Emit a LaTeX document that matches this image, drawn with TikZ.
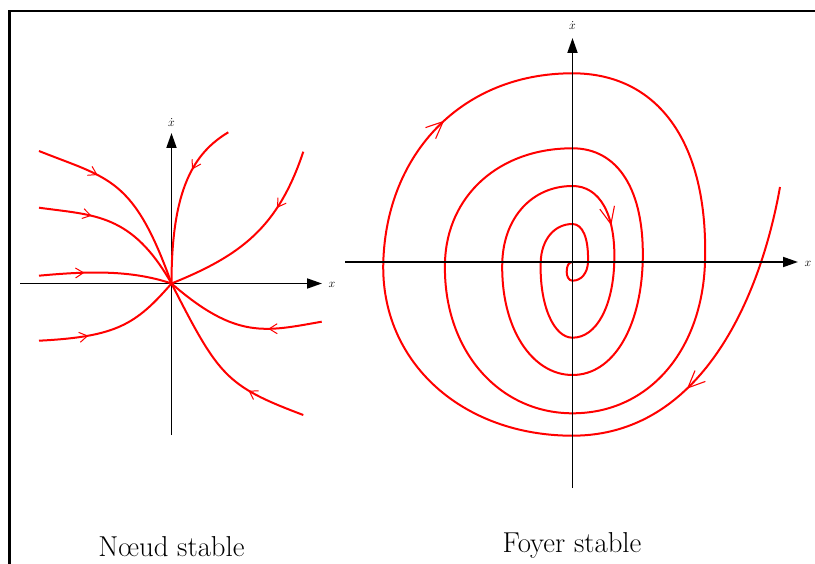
\documentclass[tikz,border=0pt]{standalone}
\usetikzlibrary{arrows.meta,decorations.markings}
\def\ku{0.58}
\def\kr{0.64}
\def\kd{0.58}
\def\kb{0.58}
\def\tl{0.03}
\begin{document}
\begin{tikzpicture}[x=1pt,y=-1pt,
  curve/.style={red, line width=2pt, line join=round},
  axis/.style={black, line width=1.8pt, -{Triangle[length=15pt,width=10pt]}},
  lbl/.style={inner sep=0pt, font=\fontsize{13}{15}\selectfont},
  title/.style={inner sep=0pt, anchor=base, font=\fontsize{28.8}{34}\selectfont},
  smallmark/.style={decoration={markings, mark=at position #1 with {\arrow{Straight Barb[length=8pt,width=10pt,line width=1pt]}}}, postaction={decorate}},
  bigmark/.style={decoration={markings, mark=at position #1 with {\arrow{Straight Barb[length=17pt,width=15pt,line width=1.1pt]}}}, postaction={decorate}}
]
\useasboundingbox (0,0) rectangle (815,564);
% frame
\draw[line width=2.5pt] (9.5,900) -- (9.5,11) -- (900,11);

% ---------- left: stable node ----------
\coordinate (O) at (171.5,283.5);
\draw[axis] (20,283.5) -- (322,283.5);
\draw[axis] (171.5,435) -- (171.5,133);
\node[lbl] (lx) at (332,285) {$x$};
\node[lbl] (ly) at (171.5,123) {$\dot x$};

\draw[curve, smallmark=0.32] (39,151) .. controls (109,179) and (133.5,177.1) .. (O);
\draw[curve, smallmark=0.33] (39,207.7) .. controls (94,215.4) and (131.5,213.1) .. (O);
\draw[curve, smallmark=0.34] (39,275.7) .. controls (89,271) and (131.5,270) .. (O);
\draw[curve, smallmark=0.31] (228.3,132.3) .. controls (194,152.9) and (171.5,188.5) .. (O);
\draw[curve, smallmark=0.32] (303.3,151.7) .. controls (278,227.6) and (241,255.4) .. (O);
\draw[curve, smallmark=0.33] (39,340.7) .. controls (116.6,336.8) and (135.9,324.4) .. (O);
\draw[curve, smallmark=0.33] (321.7,321.7) .. controls (265.8,331.5) and (236.5,340) .. (O);
\draw[curve, smallmark=0.31] (303.3,415) .. controls (225.6,385.8) and (218.8,376) .. (O);

\node[title] (t1) at (171.5,556.7) {N\oe ud stable};

% ---------- right: stable focus ----------
\begin{scope}[shift={(572.5,262)}]
\draw[curve] (207.5,-75) .. controls (187.5,38) and (127.5,173.7) .. (0,173.7)
 .. controls ({-\kb*189.2},173.7) and ({-189.2-\tl*\kb*173.7},{\kb*173.7}) .. (-189.2,0)
 .. controls ({-189.2+\tl*\ku*188.7},{-\ku*188.7}) and ({-\ku*189.2},-188.7) .. (0,-188.7)
 .. controls ({\kr*132.5},-188.7) and ({132.5+\tl*\kr*188.7},{-\kr*188.7}) .. (132.5,0)
 .. controls ({132.5-\tl*\kd*151.3},{\kd*151.3}) and ({\kd*132.5},151.3) .. (0,151.3)
 .. controls ({-\kb*127.5},151.3) and ({-127.5-\tl*\kb*151.3},{\kb*151.3}) .. (-127.5,0)
 .. controls ({-127.5+\tl*\ku*113.7},{-\ku*113.7}) and ({-\ku*127.5},-113.7) .. (0,-113.7)
 .. controls ({\kr*70.2},-113.7) and ({70.2+\tl*\kr*113.7},{-\kr*113.7}) .. (70.2,0)
 .. controls ({70.2-\tl*\kd*113},{\kd*113}) and ({\kd*70.2},113) .. (0,113)
 .. controls ({-\kb*70.2},113) and ({-70.2-\tl*\kb*113},{\kb*113}) .. (-70.2,0)
 .. controls ({-70.2+\tl*\ku*76},{-\ku*76}) and ({-\ku*70.2},-76) .. (0,-76)
 .. controls ({\kr*41.8},-76) and ({41.8+\tl*\kr*76},{-\kr*76}) .. (41.8,0)
 .. controls ({41.8-\tl*\kd*75.7},{\kd*75.7}) and ({\kd*41.8},75.7) .. (0,75.7)
 .. controls ({-\kb*31.8},75.7) and ({-31.8-\tl*\kb*75.7},{\kb*75.7}) .. (-31.8,0)
 .. controls ({-31.8+\tl*\ku*38},{-\ku*38}) and ({-\ku*31.8},-38) .. (0,-38)
 .. controls ({\kr*15.5},-38) and ({15.5+\tl*\kr*38},{-\kr*38}) .. (15.5,0)
 .. controls ({15.5-\tl*\kd*18.7},{\kd*18.7}) and ({\kd*15.5},18.7) .. (0,18.7)
 .. controls (-4,18.7) and (-5.8,14) .. (-5.8,10)
 .. controls (-5.8,4) and (-4,0) .. (0,0);
% arrow marks on the spiral
\path[curve, bigmark=0.64] (207.5,-75) .. controls (187.5,38) and (127.5,173.7) .. (0,173.7);
\path[curve, bigmark=0.53] (-189.2,0) .. controls ({-189.2+\tl*\ku*188.7},{-\ku*188.7}) and ({-\ku*189.2},-188.7) .. (0,-188.7);
\path[curve, bigmark=0.62] (0,-76) .. controls ({\kr*41.8},-76) and ({41.8+\tl*\kr*76},{-\kr*76}) .. (41.8,0);
\end{scope}
\draw[axis] (345,262) -- (798,262);
\draw[axis] (572.5,488) -- (572.5,38);
\node[lbl] (rx) at (808,263.5) {$x$};
\node[lbl] (ry) at (572.5,26) {$\dot x$};

\node[title] (t2) at (572,552) {Foyer stable};
\end{tikzpicture}
\end{document}
